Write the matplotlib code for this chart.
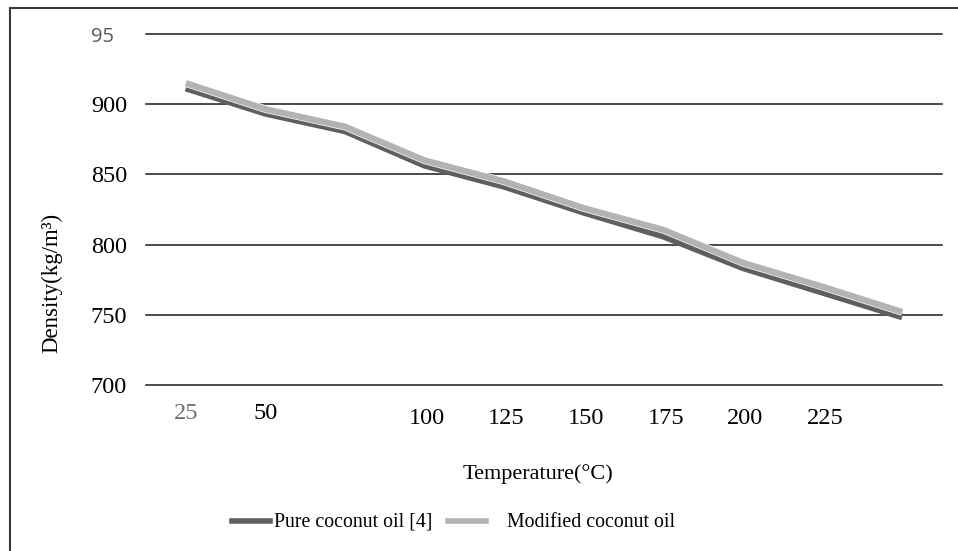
import matplotlib
matplotlib.use("Agg")
import matplotlib.pyplot as plt
import matplotlib.patheffects as pe
from matplotlib.lines import Line2D
from matplotlib.transforms import ScaledTranslation

# ---- data ----
categories = [25, 50, 75, 100, 125, 150, 175, 200, 225, 250]
x_tick_labels = ["25", "50", "", "100", "125", "150", "175", "200", "225", ""]
pure_oil = [911.5, 893.5, 881.0, 856.5, 841.5, 823.0, 806.0, 783.5, 766.0, 748.5]
modified_oil = [915.0, 896.5, 884.0, 860.0, 845.0, 826.0, 810.5, 787.0, 770.0, 752.0]
y_ticks = [700, 750, 800, 850, 900, 950]
y_tick_labels = ["700", "750", "800", "850", "900", "95"]
series_names = ["Pure coconut oil [4]", "Modified coconut oil"]
series_colors = ["#5f5f5f", "#b3b3b3"]

W, H = 958, 551
fig = plt.figure(figsize=(W / 100, H / 100), dpi=100)
serif = "Liberation Serif"

left, right, top, bottom = 146, 942, 34, 385
ax = fig.add_axes([left / W, 1 - bottom / H, (right - left) / W, (bottom - top) / H])
xs = list(range(len(categories)))

ax.plot(xs, pure_oil, color=series_colors[0], lw=4.9, solid_joinstyle="round",
        solid_capstyle="butt", zorder=3)
ax.plot(xs, modified_oil, color=series_colors[1], lw=4.5, solid_joinstyle="round",
        solid_capstyle="butt", zorder=4,
        path_effects=[pe.Stroke(linewidth=5.5, foreground="white"), pe.Normal()])

ax.set_xlim(-0.5, len(categories) - 0.5)
ax.set_ylim(700, 950)
for s in ax.spines.values():
    s.set_visible(False)
for yv in y_ticks:
    ax.axhline(yv, color="#1a1a1a", lw=1.1, zorder=1, clip_on=False)

# y tick labels (shifted slightly below their gridlines, as in the reference)
down = ScaledTranslation(0, -2.5 / 100, fig.dpi_scale_trans)
ax.set_yticks([])
for yv, lab in zip(y_ticks, y_tick_labels):
    if yv == 950:
        ax.text((114 - left) / (right - left), yv, lab,
                transform=ax.get_yaxis_transform() + ScaledTranslation(0, -3.5 / 100, fig.dpi_scale_trans),
                ha="right", va="center", fontfamily="Open Sans", fontsize=14.5,
                color="#595959")
    else:
        ax.text((127 - left) / (right - left), yv, lab,
                transform=ax.get_yaxis_transform() + down,
                ha="right", va="center", fontfamily=serif, fontsize=17.5, color="black")

# x tick labels
ax.set_xticks([])
for xi, lab in zip(xs, x_tick_labels):
    if not lab:
        continue
    yy = -0.082 if xi < 2 else -0.096
    col = "#707070" if xi == 0 else "black"
    ax.text(xi + (0.03 if xi >= 2 else 0), yy, lab, transform=ax.get_xaxis_transform(),
            ha="center", va="center", fontfamily=serif, fontsize=17.5, color=col)

fig.text(52 / W, 1 - 283 / H, "Density(kg/m\u00b3)", rotation=90, ha="center",
         va="center", fontfamily=serif, fontsize=16.5)
fig.text(538 / W, 1 - 474 / H, "Temperature(\u00b0C)", ha="center", va="center",
         fontfamily=serif, fontsize=16)

# legend (manual)
ly = 1 - 521 / H
handles = [(232, 270, 274), (448, 486, 507)]
for (x0, x1, tx), name, col in zip(handles, series_names, series_colors):
    fig.add_artist(Line2D([x0 / W, x1 / W], [ly, ly], color=col, lw=4.0,
                          transform=fig.transFigure))
    fig.text(tx / W, ly - 0.002, name, ha="left", va="center", fontfamily=serif, fontsize=14.3)

# outer border (top and left only)
fig.add_artist(Line2D([10 / W, 1], [1 - 8 / H, 1 - 8 / H], color="#3a3a3a", lw=1.5,
                      transform=fig.transFigure))
fig.add_artist(Line2D([10 / W, 10 / W], [0, 1 - 8 / H], color="#3a3a3a", lw=1.5,
                      transform=fig.transFigure))

fig.savefig("out.png", dpi=100)
